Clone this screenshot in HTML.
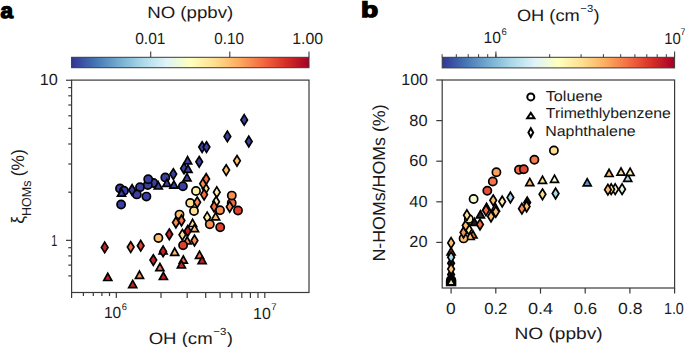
<!DOCTYPE html>
<html><head><meta charset="utf-8"><style>
html,body{margin:0;padding:0;background:#fff;width:685px;height:347px;overflow:hidden}
svg{display:block;font-family:"Liberation Sans",sans-serif;text-rendering:geometricPrecision}
</style></head><body>
<svg width="685" height="347" viewBox="0 0 685 347" fill="#1a1a1a"><defs><linearGradient id="ga" x1="0" x2="1" y1="0" y2="0"><stop offset="0.0" stop-color="#313695"/><stop offset="0.1" stop-color="#4575b4"/><stop offset="0.2" stop-color="#74add1"/><stop offset="0.3" stop-color="#abd9e9"/><stop offset="0.4" stop-color="#e0f3f8"/><stop offset="0.5" stop-color="#ffffbf"/><stop offset="0.6" stop-color="#fee090"/><stop offset="0.7" stop-color="#fdae61"/><stop offset="0.8" stop-color="#f46d43"/><stop offset="0.9" stop-color="#d73027"/><stop offset="1.0" stop-color="#a50026"/></linearGradient></defs><rect x="71.6" y="57.3" width="237.4" height="10.4" fill="url(#ga)" stroke="#3a3a3a" stroke-width="1"/>
<line x1="150.7" y1="51.5" x2="150.7" y2="57.3" stroke="#3a3a3a" stroke-width="1.1"/>
<line x1="229.8" y1="51.5" x2="229.8" y2="57.3" stroke="#3a3a3a" stroke-width="1.1"/>
<line x1="309.0" y1="51.5" x2="309.0" y2="57.3" stroke="#3a3a3a" stroke-width="1.1"/>
<rect x="71.6" y="80.1" width="237.4" height="212.4" fill="none" stroke="#3a3a3a" stroke-width="1.2"/>
<line x1="66" y1="80.25" x2="71.6" y2="80.25" stroke="#3a3a3a" stroke-width="1.2"/>
<line x1="66" y1="240.35" x2="71.6" y2="240.35" stroke="#3a3a3a" stroke-width="1.2"/>
<line x1="68.3" y1="192.2" x2="71.6" y2="192.2" stroke="#3a3a3a" stroke-width="1.2"/>
<line x1="68.3" y1="164.0" x2="71.6" y2="164.0" stroke="#3a3a3a" stroke-width="1.2"/>
<line x1="68.3" y1="144.0" x2="71.6" y2="144.0" stroke="#3a3a3a" stroke-width="1.2"/>
<line x1="68.3" y1="128.4" x2="71.6" y2="128.4" stroke="#3a3a3a" stroke-width="1.2"/>
<line x1="68.3" y1="115.8" x2="71.6" y2="115.8" stroke="#3a3a3a" stroke-width="1.2"/>
<line x1="68.3" y1="105.0" x2="71.6" y2="105.0" stroke="#3a3a3a" stroke-width="1.2"/>
<line x1="68.3" y1="95.8" x2="71.6" y2="95.8" stroke="#3a3a3a" stroke-width="1.2"/>
<line x1="68.3" y1="87.6" x2="71.6" y2="87.6" stroke="#3a3a3a" stroke-width="1.2"/>
<line x1="68.3" y1="247.7" x2="71.6" y2="247.7" stroke="#3a3a3a" stroke-width="1.2"/>
<line x1="68.3" y1="255.9" x2="71.6" y2="255.9" stroke="#3a3a3a" stroke-width="1.2"/>
<line x1="68.3" y1="265.1" x2="71.6" y2="265.1" stroke="#3a3a3a" stroke-width="1.2"/>
<line x1="68.3" y1="275.9" x2="71.6" y2="275.9" stroke="#3a3a3a" stroke-width="1.2"/>
<line x1="83.4" y1="292.5" x2="83.4" y2="296.1" stroke="#3a3a3a" stroke-width="1.2"/>
<line x1="93.3" y1="292.5" x2="93.3" y2="296.1" stroke="#3a3a3a" stroke-width="1.2"/>
<line x1="101.9" y1="292.5" x2="101.9" y2="296.1" stroke="#3a3a3a" stroke-width="1.2"/>
<line x1="109.5" y1="292.5" x2="109.5" y2="296.1" stroke="#3a3a3a" stroke-width="1.2"/>
<line x1="116.3" y1="292.5" x2="116.3" y2="298.1" stroke="#3a3a3a" stroke-width="1.2"/>
<line x1="161.0" y1="292.5" x2="161.0" y2="298.1" stroke="#3a3a3a" stroke-width="1.2"/>
<line x1="187.2" y1="292.5" x2="187.2" y2="298.1" stroke="#3a3a3a" stroke-width="1.2"/>
<line x1="205.7" y1="292.5" x2="205.7" y2="298.1" stroke="#3a3a3a" stroke-width="1.2"/>
<line x1="220.1" y1="292.5" x2="220.1" y2="298.1" stroke="#3a3a3a" stroke-width="1.2"/>
<line x1="231.9" y1="292.5" x2="231.9" y2="298.1" stroke="#3a3a3a" stroke-width="1.2"/>
<line x1="241.8" y1="292.5" x2="241.8" y2="298.1" stroke="#3a3a3a" stroke-width="1.2"/>
<line x1="250.4" y1="292.5" x2="250.4" y2="298.1" stroke="#3a3a3a" stroke-width="1.2"/>
<line x1="258.0" y1="292.5" x2="258.0" y2="298.1" stroke="#3a3a3a" stroke-width="1.2"/>
<line x1="264.8" y1="292.5" x2="264.8" y2="298.1" stroke="#3a3a3a" stroke-width="1.2"/>
<line x1="71.6" y1="292.5" x2="71.6" y2="298.1" stroke="#3a3a3a" stroke-width="1.2"/>
<g transform="translate(24.0,223.8) rotate(-90) scale(0.962,1)"><text x="0" y="0" font-size="18">ξ<tspan dy="6.5" font-size="13">HOMs</tspan><tspan dy="-6.5" dx="-0.5"> (%)</tspan></text></g>
<g stroke="#000" stroke-width="1.7" stroke-linejoin="miter"><circle cx="120" cy="188.5" r="4.1" fill="#3b40a0"/><circle cx="124" cy="190.8" r="4.1" fill="#3b40a0"/><path d="M121.5 189.0L125.5 196.2L117.5 196.2Z" fill="#3b40a0"/><circle cx="140" cy="187.3" r="4.1" fill="#3b40a0"/><circle cx="136.8" cy="194.4" r="4.1" fill="#3b40a0"/><path d="M132.1 184.7L135.4 190.0L132.1 195.3L128.8 190.0Z" fill="#3b40a0"/><circle cx="146.4" cy="196.6" r="4.1" fill="#3b40a0"/><circle cx="153.5" cy="183" r="4.1" fill="#3b40a0"/><circle cx="147.8" cy="185.1" r="4.1" fill="#3b40a0"/><circle cx="148.2" cy="179.3" r="4.1" fill="#3b40a0"/><circle cx="121.1" cy="204.5" r="4.1" fill="#3b40a0"/><path d="M158.3 181.8L162.3 189.0L154.3 189.0Z" fill="#3b40a0"/><circle cx="165.3" cy="177.4" r="4.1" fill="#3b40a0"/><path d="M166.9 179.2L170.9 186.4L162.9 186.4Z" fill="#3b40a0"/><path d="M173.3 168.8L176.6 174.1L173.3 179.4L170.0 174.1Z" fill="#3b40a0"/><path d="M173.9 180.9L177.9 188.1L169.9 188.1Z" fill="#3b40a0"/><circle cx="182.9" cy="186.2" r="4.1" fill="#3b40a0"/><path d="M184.0 163.1L187.3 168.4L184.0 173.7L180.7 168.4Z" fill="#3b40a0"/><path d="M188.0 165.1L192.0 172.3L184.0 172.3Z" fill="#3b40a0"/><path d="M187.0 173.7L191.0 180.9L183.0 180.9Z" fill="#3b40a0"/><path d="M187.6 156.6L191.6 163.8L183.6 163.8Z" fill="#3b40a0"/><path d="M199.2 156.5L202.5 161.8L199.2 167.1L195.9 161.8Z" fill="#3b40a0"/><path d="M202.1 141.8L205.4 147.1L202.1 152.4L198.8 147.1Z" fill="#3b40a0"/><path d="M206.5 141.8L209.8 147.1L206.5 152.4L203.2 147.1Z" fill="#3b40a0"/><path d="M227.4 131.1L230.7 136.4L227.4 141.7L224.1 136.4Z" fill="#3b40a0"/><path d="M244.2 114.6L247.5 119.9L244.2 125.2L240.9 119.9Z" fill="#3b40a0"/><path d="M248.8 136.2L252.1 141.5L248.8 146.8L245.5 141.5Z" fill="#3b40a0"/><path d="M104.7 242.1L108.0 247.4L104.7 252.7L101.4 247.4Z" fill="#c82227"/><path d="M130.7 241.8L134.0 247.1L130.7 252.4L127.4 247.1Z" fill="#f46d43"/><path d="M140.7 240.4L144.0 245.7L140.7 251.0L137.4 245.7Z" fill="#e0422f"/><path d="M107.8 273.3L111.8 280.5L103.8 280.5Z" fill="#c82227"/><path d="M132.7 280.4L136.7 287.6L128.7 287.6Z" fill="#c82227"/><path d="M139.5 271.1L143.5 278.3L135.5 278.3Z" fill="#f88e52"/><path d="M159.9 263.5L163.9 270.7L155.9 270.7Z" fill="#f46d43"/><path d="M163.4 272.3L167.4 279.5L159.4 279.5Z" fill="#c82227"/><path d="M153.3 254.8L156.6 260.1L153.3 265.4L150.0 260.1Z" fill="#c82227"/><path d="M163.1 246.8L167.1 254.0L159.1 254.0Z" fill="#c82227"/><path d="M163.1 246.1L166.4 251.4L163.1 256.7L159.8 251.4Z" fill="#c82227"/><path d="M174.7 248.1L178.7 255.3L170.7 255.3Z" fill="#fdbd6f"/><path d="M187.2 236.8L191.2 244.0L183.2 244.0Z" fill="#f88e52"/><circle cx="183.1" cy="245.2" r="4.1" fill="#e0422f"/><path d="M183.3 256.0L187.3 263.2L179.3 263.2Z" fill="#f46d43"/><path d="M181.4 260.7L185.4 267.9L177.4 267.9Z" fill="#c82227"/><path d="M199.5 251.2L203.5 258.4L195.5 258.4Z" fill="#f46d43"/><path d="M202.1 256.4L206.1 263.6L198.1 263.6Z" fill="#c82227"/><path d="M194.5 235.2L197.8 240.5L194.5 245.8L191.2 240.5Z" fill="#f88e52"/><circle cx="158.4" cy="238" r="4.1" fill="#fdbd6f"/><path d="M169.3 229.0L172.6 234.3L169.3 239.6L166.0 234.3Z" fill="#c82227"/><path d="M182.4 229.5L185.7 234.8L182.4 240.1L179.1 234.8Z" fill="#fee090"/><path d="M187.7 225.7L191.0 231.0L187.7 236.3L184.4 231.0Z" fill="#c82227"/><path d="M192.6 219.3L196.6 226.5L188.6 226.5Z" fill="#fee090"/><path d="M194.5 224.5L198.5 231.7L190.5 231.7Z" fill="#fdbd6f"/><circle cx="179.5" cy="214.6" r="4.1" fill="#fdbd6f"/><path d="M175.9 217.2L179.2 222.5L175.9 227.8L172.6 222.5Z" fill="#f88e52"/><path d="M181.5 215.2L184.8 220.5L181.5 225.8L178.2 220.5Z" fill="#f46d43"/><circle cx="190.2" cy="202.9" r="4.1" fill="#fee090"/><path d="M197.2 197.0L200.5 202.3L197.2 207.6L193.9 202.3Z" fill="#f88e52"/><circle cx="194" cy="211.1" r="4.1" fill="#fee090"/><circle cx="196" cy="191" r="4.1" fill="#fef0a8"/><path d="M205.6 183.3L208.9 188.6L205.6 193.9L202.3 188.6Z" fill="#fee090"/><path d="M203.1 178.4L206.4 183.7L203.1 189.0L199.8 183.7Z" fill="#f88e52"/><path d="M206.2 173.7L209.5 179.0L206.2 184.3L202.9 179.0Z" fill="#f46d43"/><path d="M204.1 189.3L207.4 194.6L204.1 199.9L200.8 194.6Z" fill="#f46d43"/><path d="M216.8 186.9L220.1 192.2L216.8 197.5L213.5 192.2Z" fill="#fef0a8"/><path d="M216.1 196.5L219.4 201.8L216.1 207.1L212.8 201.8Z" fill="#fef0a8"/><path d="M214.1 201.4L217.4 206.7L214.1 212.0L210.8 206.7Z" fill="#f46d43"/><circle cx="220" cy="210.3" r="4.1" fill="#f88e52"/><path d="M215.6 212.7L219.6 219.9L211.6 219.9Z" fill="#fdbd6f"/><path d="M207.2 212.1L210.5 217.4L207.2 222.7L203.9 217.4Z" fill="#fef0a8"/><circle cx="209.8" cy="224.3" r="4.1" fill="#f88e52"/><circle cx="220.2" cy="227.3" r="4.1" fill="#e0422f"/><circle cx="231.7" cy="203" r="4.1" fill="#f46d43"/><circle cx="231.8" cy="195.6" r="4.1" fill="#f88e52"/><path d="M229.7 201.5L233.0 206.8L229.7 212.1L226.4 206.8Z" fill="#f88e52"/><circle cx="238" cy="210.5" r="4.1" fill="#e0422f"/><path d="M226.2 164.8L229.5 170.1L226.2 175.4L222.9 170.1Z" fill="#fdbd6f"/><path d="M237.0 155.5L240.3 160.8L237.0 166.1L233.7 160.8Z" fill="#fdbd6f"/></g>
<rect x="442.2" y="57.3" width="232.4" height="10.6" fill="url(#ga)" stroke="#3a3a3a" stroke-width="1"/>
<line x1="442.1" y1="54.2" x2="442.1" y2="57.3" stroke="#3a3a3a" stroke-width="1.0"/>
<line x1="456.3" y1="54.2" x2="456.3" y2="57.3" stroke="#3a3a3a" stroke-width="1.0"/>
<line x1="468.2" y1="54.2" x2="468.2" y2="57.3" stroke="#3a3a3a" stroke-width="1.0"/>
<line x1="478.6" y1="54.2" x2="478.6" y2="57.3" stroke="#3a3a3a" stroke-width="1.0"/>
<line x1="487.7" y1="54.2" x2="487.7" y2="57.3" stroke="#3a3a3a" stroke-width="1.0"/>
<line x1="495.9" y1="54.2" x2="495.9" y2="57.3" stroke="#3a3a3a" stroke-width="1.0"/>
<line x1="549.7" y1="54.2" x2="549.7" y2="57.3" stroke="#3a3a3a" stroke-width="1.0"/>
<line x1="581.1" y1="54.2" x2="581.1" y2="57.3" stroke="#3a3a3a" stroke-width="1.0"/>
<line x1="603.4" y1="54.2" x2="603.4" y2="57.3" stroke="#3a3a3a" stroke-width="1.0"/>
<line x1="620.7" y1="54.2" x2="620.7" y2="57.3" stroke="#3a3a3a" stroke-width="1.0"/>
<line x1="634.9" y1="54.2" x2="634.9" y2="57.3" stroke="#3a3a3a" stroke-width="1.0"/>
<line x1="646.8" y1="54.2" x2="646.8" y2="57.3" stroke="#3a3a3a" stroke-width="1.0"/>
<line x1="657.2" y1="54.2" x2="657.2" y2="57.3" stroke="#3a3a3a" stroke-width="1.0"/>
<line x1="666.3" y1="54.2" x2="666.3" y2="57.3" stroke="#3a3a3a" stroke-width="1.0"/>
<line x1="495.9" y1="51.5" x2="495.9" y2="57.3" stroke="#3a3a3a" stroke-width="1.1"/>
<line x1="674.6" y1="51.5" x2="674.6" y2="57.3" stroke="#3a3a3a" stroke-width="1.1"/>
<rect x="442.2" y="80.0" width="232.40000000000003" height="208.0" fill="none" stroke="#3a3a3a" stroke-width="1.2"/>
<line x1="436.3" y1="80.0" x2="442.2" y2="80.0" stroke="#3a3a3a" stroke-width="1.2"/>
<line x1="436.3" y1="120.6" x2="442.2" y2="120.6" stroke="#3a3a3a" stroke-width="1.2"/>
<line x1="436.3" y1="161.2" x2="442.2" y2="161.2" stroke="#3a3a3a" stroke-width="1.2"/>
<line x1="436.3" y1="201.8" x2="442.2" y2="201.8" stroke="#3a3a3a" stroke-width="1.2"/>
<line x1="436.3" y1="242.4" x2="442.2" y2="242.4" stroke="#3a3a3a" stroke-width="1.2"/>
<line x1="451.1" y1="288.0" x2="451.1" y2="293.6" stroke="#3a3a3a" stroke-width="1.2"/>
<line x1="495.8" y1="288.0" x2="495.8" y2="293.6" stroke="#3a3a3a" stroke-width="1.2"/>
<line x1="540.5" y1="288.0" x2="540.5" y2="293.6" stroke="#3a3a3a" stroke-width="1.2"/>
<line x1="585.2" y1="288.0" x2="585.2" y2="293.6" stroke="#3a3a3a" stroke-width="1.2"/>
<line x1="629.9" y1="288.0" x2="629.9" y2="293.6" stroke="#3a3a3a" stroke-width="1.2"/>
<line x1="674.6" y1="288.0" x2="674.6" y2="293.6" stroke="#3a3a3a" stroke-width="1.2"/>
<g transform="translate(385.3,261.6) rotate(-90) scale(1.017,1)"><text x="0" y="0" font-size="17.5">N-HOMs/HOMs (%)</text></g>
<g stroke="#000" stroke-width="2" fill="none"><circle cx="530.8" cy="96.9" r="3.5"/><path d="M530.8 112.9L534.4 118.2L527.2 118.2Z"/><path d="M530.8 128.3L533.2 132.6L530.8 136.9L528.4 132.6Z"/></g>
<g stroke="#000" stroke-width="1.7" stroke-linejoin="miter"><path d="M451.1 269.2L454.4 274.5L451.1 279.8L447.8 274.5Z" fill="#1a1a1a"/><path d="M451.1 257.9L454.4 263.2L451.1 268.5L447.8 263.2Z" fill="#1a1a1a"/><path d="M451.1 263.8L454.4 269.1L451.1 274.4L447.8 269.1Z" fill="#fdbd6f"/><path d="M446.7 280.2A4.4 4.4 0 0 1 455.5 280.2L455.5 285.4L446.7 285.4Z" fill="#000"/><path d="M451.1 279.9L453.4 284.1L448.8 284.1Z" fill="#fee090" stroke="none"/><path d="M451.1 247.8L455.1 255.0L447.1 255.0Z" fill="#f46d43"/><path d="M451.1 251.9L454.4 257.2L451.1 262.5L447.8 257.2Z" fill="#abd9e9"/><path d="M451.1 237.6L454.4 242.9L451.1 248.2L447.8 242.9Z" fill="#fdbd6f"/><path d="M473.0 230.8L477.0 238.0L469.0 238.0Z" fill="#f46d43"/><path d="M470.2 232.3L474.2 239.5L466.2 239.5Z" fill="#fdbd6f"/><circle cx="463.6" cy="238.4" r="4.1" fill="#fdbd6f"/><path d="M468.6 223.9L471.9 229.2L468.6 234.5L465.3 229.2Z" fill="#fef0a8"/><path d="M463.5 227.2L466.8 232.5L463.5 237.8L460.2 232.5Z" fill="#f88e52"/><path d="M465.7 220.2L469.0 225.5L465.7 230.8L462.4 225.5Z" fill="#fdbd6f"/><path d="M474.5 218.3L478.5 225.5L470.5 225.5Z" fill="#1c1c1c"/><path d="M480.0 219.2L483.3 224.5L480.0 229.8L476.7 224.5Z" fill="#f46d43"/><circle cx="468.8" cy="219" r="4.1" fill="#fef0a8"/><path d="M466.9 209.9L470.2 215.2L466.9 220.5L463.6 215.2Z" fill="#fee090"/><path d="M480.4 210.7L484.4 217.9L476.4 217.9Z" fill="#2e2a1c"/><path d="M486.6 203.3L490.6 210.5L482.6 210.5Z" fill="#f46d43"/><path d="M495.4 203.6L499.4 210.8L491.4 210.8Z" fill="#fdbd6f"/><path d="M491.0 211.2L494.3 216.5L491.0 221.8L487.7 216.5Z" fill="#fdbd6f"/><path d="M495.8 206.5L499.1 211.8L495.8 217.1L492.5 211.8Z" fill="#fdbd6f"/><path d="M486.0 205.0L489.3 210.3L486.0 215.6L482.7 210.3Z" fill="#f46d43"/><path d="M493.2 195.0L496.5 200.3L493.2 205.6L489.9 200.3Z" fill="#fdbd6f"/><path d="M502.2 196.2L505.5 201.5L502.2 206.8L498.9 201.5Z" fill="#fef0a8"/><path d="M510.4 192.2L513.7 197.5L510.4 202.8L507.1 197.5Z" fill="#abd9e9"/><circle cx="473.6" cy="199" r="4.1" fill="#f6fbd0"/><circle cx="487.3" cy="190.7" r="4.1" fill="#e64e35"/><circle cx="492.8" cy="181.5" r="4.1" fill="#f57346"/><circle cx="496.4" cy="172.3" r="4.1" fill="#fba15b"/><path d="M527.2 197.2L530.5 202.5L527.2 207.8L523.9 202.5Z" fill="#111"/><path d="M526.6 201.2L529.9 206.5L526.6 211.8L523.3 206.5Z" fill="#fdbd6f"/><path d="M521.9 203.4L525.2 208.7L521.9 214.0L518.6 208.7Z" fill="#f88e52"/><circle cx="519" cy="169.7" r="4.1" fill="#f46d43"/><circle cx="523.8" cy="169.2" r="4.1" fill="#e34832"/><circle cx="534.4" cy="159.8" r="4.1" fill="#f67a49"/><circle cx="553.9" cy="150.5" r="4.1" fill="#fee090"/><path d="M529.8 178.4L533.8 185.6L525.8 185.6Z" fill="#fdbd6f"/><path d="M542.5 176.2L546.5 183.4L538.5 183.4Z" fill="#fee090"/><path d="M554.5 175.2L558.5 182.4L550.5 182.4Z" fill="#f6fbd0"/><path d="M542.5 189.0L545.8 194.3L542.5 199.6L539.2 194.3Z" fill="#fee090"/><path d="M555.6 188.2L558.9 193.5L555.6 198.8L552.3 193.5Z" fill="#abd9e9"/><path d="M587.2 178.7L591.2 185.9L583.2 185.9Z" fill="#5c91c2"/><path d="M609.1 169.3L613.1 176.5L605.1 176.5Z" fill="#fdbd6f"/><path d="M621.0 168.0L625.0 175.2L617.0 175.2Z" fill="#fee090"/><path d="M627.7 174.1L631.7 181.3L623.7 181.3Z" fill="#abd9e9"/><path d="M630.1 168.2L634.1 175.4L626.1 175.4Z" fill="#fef0a8"/><path d="M615.2 183.9L618.5 189.2L615.2 194.5L611.9 189.2Z" fill="#f4f6c4"/><path d="M611.2 183.9L614.5 189.2L611.2 194.5L607.9 189.2Z" fill="#fee090"/><path d="M607.9 184.4L611.2 189.7L607.9 195.0L604.6 189.7Z" fill="#fdbd6f"/><path d="M622.1 183.9L625.4 189.2L622.1 194.5L618.8 189.2Z" fill="#e2f2e4"/></g>
<g transform="translate(0.44,17.60) scale(1.0361,1)"><text x="0" y="0" font-size="21.70" font-weight="bold" stroke="#000" stroke-width="1.3" fill="#000">a</text></g>
<g transform="translate(361.10,17.35) scale(1.3069,1)"><text x="0" y="0" font-size="21.50" font-weight="bold" stroke="#000" stroke-width="1.3" fill="#000">b</text></g>
<g transform="translate(147.15,17.50) scale(1.1319,1)"><text x="0" y="0" font-size="16.50">NO (ppbv)</text></g>
<g transform="translate(135.17,43.95) scale(0.9712,1)"><text x="0" y="0" font-size="16.00">0.01</text></g>
<g transform="translate(214.37,43.95) scale(0.9534,1)"><text x="0" y="0" font-size="16.00">0.10</text></g>
<g transform="translate(292.20,43.95) scale(0.9904,1)"><text x="0" y="0" font-size="16.00">1.00</text></g>
<g transform="translate(39.82,84.69) scale(1.0166,1)"><text x="0" y="0" font-size="16.00">10</text></g>
<g transform="translate(51.29,245.87) scale(0.6732,1)"><text x="0" y="0" font-size="16.00">1</text></g>
<g transform="translate(103.99,318.34) scale(0.9678,1)"><text x="0" y="0" font-size="16.00">10<tspan dx="0.6" dy="-8.6" font-size="60%">6</tspan></text></g>
<g transform="translate(253.08,318.55) scale(0.9933,1)"><text x="0" y="0" font-size="16.00">10<tspan dx="0.6" dy="-8.6" font-size="60%">7</tspan></text></g>
<g transform="translate(148.63,343.80) scale(1.1266,1)"><text x="0" y="0" font-size="16.50">OH (cm<tspan dx="0.5" dy="-9.3" font-size="62%">−3</tspan><tspan dx="0.3" dy="9.3">)</tspan></text></g>
<g transform="translate(516.92,21.00) scale(1.1058,1)"><text x="0" y="0" font-size="16.50">OH (cm<tspan dx="0.5" dy="-9.3" font-size="62%">−3</tspan><tspan dx="0.3" dy="9.3">)</tspan></text></g>
<g transform="translate(483.54,43.37) scale(0.9813,1)"><text x="0" y="0" font-size="16.00">10<tspan dx="0.6" dy="-8.6" font-size="60%">6</tspan></text></g>
<g transform="translate(664.20,43.57) scale(0.9300,1)"><text x="0" y="0" font-size="16.00">10<tspan dx="-0.2" dy="-8.6" font-size="60%">7</tspan></text></g>
<g transform="translate(401.23,85.10) scale(1.0013,1)"><text x="0" y="0" font-size="16.00">100</text></g>
<g transform="translate(409.34,125.95) scale(1.0222,1)"><text x="0" y="0" font-size="16.00">80</text></g>
<g transform="translate(445.91,314.15) scale(1.0863,1)"><text x="0" y="0" font-size="16.00">0</text></g>
<g transform="translate(484.14,314.15) scale(1.0453,1)"><text x="0" y="0" font-size="16.00">0.2</text></g>
<g transform="translate(527.90,314.15) scale(1.1285,1)"><text x="0" y="0" font-size="16.00">0.4</text></g>
<g transform="translate(573.78,314.15) scale(1.0458,1)"><text x="0" y="0" font-size="16.00">0.6</text></g>
<g transform="translate(618.11,314.15) scale(1.0991,1)"><text x="0" y="0" font-size="16.00">0.8</text></g>
<g transform="translate(663.92,314.15) scale(0.8943,1)"><text x="0" y="0" font-size="16.00">1.0</text></g>
<g transform="translate(514.38,339.40) scale(1.1606,1)"><text x="0" y="0" font-size="16.50">NO (ppbv)</text></g>
<g transform="translate(545.68,100.87) scale(1.1198,1)"><text x="0" y="0" font-size="14.50">Toluene</text></g>
<g transform="translate(545.83,117.74) scale(1.0903,1)"><text x="0" y="0" font-size="14.50">Trimethlybenzene</text></g>
<g transform="translate(545.26,135.69) scale(1.0985,1)"><text x="0" y="0" font-size="14.50">Naphthalene</text></g>
<g transform="translate(409.34,166.45) scale(1.0222,1)"><text x="0" y="0" font-size="16.00">60</text></g>
<g transform="translate(409.34,206.95) scale(1.0222,1)"><text x="0" y="0" font-size="16.00">40</text></g>
<g transform="translate(409.34,247.45) scale(1.0222,1)"><text x="0" y="0" font-size="16.00">20</text></g></svg>
</body></html>
